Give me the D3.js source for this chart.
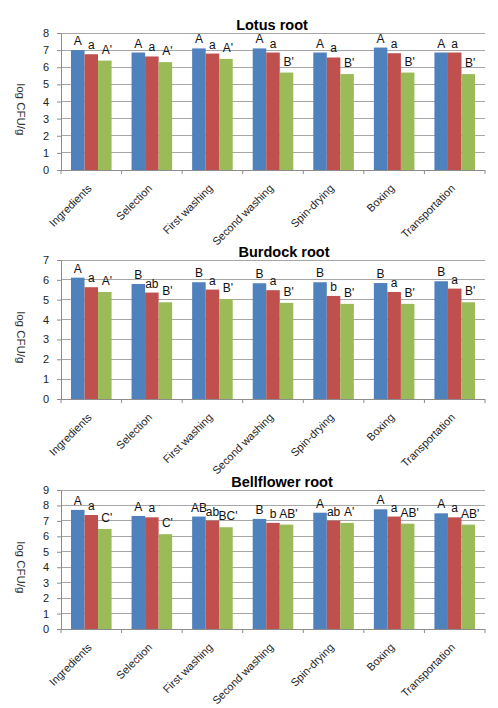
<!DOCTYPE html>
<html><head><meta charset="utf-8">
<script src="https://cdn.jsdelivr.net/npm/d3@7"></script>
<style>
body{margin:0;background:#fff;}
svg{display:block;}
text{font-family:"Liberation Sans",Arial,sans-serif;}
</style></head>
<body><svg id="c" width="498" height="708"></svg>
<script>
const categories = ["Ingredients","Selection","First washing","Second washing","Spin-drying","Boxing","Transportation"];
const seriesNames = ["s1","s2","s3"];
const colors = ["#4F81BD","#C0504D","#9BBB59"];

const lotusTitle = "Lotus root";
const lotusBlue  = [7.00,6.86,7.10,7.10,6.86,7.15,6.86];
const lotusRed   = [6.76,6.63,6.80,6.86,6.57,6.82,6.86];
const lotusGreen = [6.39,6.30,6.49,5.69,5.60,5.69,5.60];
const lotusBlueLetters  = ["A","A","A","A","A","A","A"];
const lotusRedLetters   = ["a","a","a","a","a","a","a"];
const lotusGreenLetters = ["A'","A'","A'","B'","B'","B'","B'"];
const lotusTicks = [0,1,2,3,4,5,6,7,8];

const burdockTitle = "Burdock root";
const burdockBlue  = [6.11,5.79,5.88,5.83,5.88,5.84,5.93];
const burdockRed   = [5.63,5.36,5.51,5.48,5.19,5.39,5.56];
const burdockGreen = [5.39,4.87,5.03,4.84,4.79,4.79,4.87];
const burdockBlueLetters  = ["A","B","B","B","B","B","B"];
const burdockRedLetters   = ["a","ab","a","a","b","a","a"];
const burdockGreenLetters = ["A'","B'","B'","B'","B'","B'","B'"];
const burdockTicks = [0,1,2,3,4,5,6,7];

const bellTitle = "Bellflower root";
const bellBlue  = [7.71,7.32,7.28,7.13,7.53,7.75,7.49];
const bellRed   = [7.38,7.23,7.02,6.87,7.02,7.28,7.23];
const bellGreen = [6.48,6.14,6.59,6.76,6.87,6.82,6.76];
const bellBlueLetters  = ["A","A","AB","B","A","A","A"];
const bellRedLetters   = ["a","a","ab","b","ab","a","a"];
const bellGreenLetters = ["C'","C'","BC'","AB'","A'","AB'","AB'"];
const bellTicks = [0,1,2,3,4,5,6,7,8,9];

const yLabel = "log CFU/g";

const panels = [
  {title:lotusTitle, vals:[lotusBlue,lotusRed,lotusGreen], letters:[lotusBlueLetters,lotusRedLetters,lotusGreenLetters], ticks:lotusTicks,
   top:33, bottom:170, titleX:272},
  {title:burdockTitle, vals:[burdockBlue,burdockRed,burdockGreen], letters:[burdockBlueLetters,burdockRedLetters,burdockGreenLetters], ticks:burdockTicks,
   top:260, bottom:399, titleX:284},
  {title:bellTitle, vals:[bellBlue,bellRed,bellGreen], letters:[bellBlueLetters,bellRedLetters,bellGreenLetters], ticks:bellTicks,
   top:490, bottom:629, titleX:282}
];

const svg = d3.select("#c");
const left = 61, right = 485;

panels.forEach(p => {
  const g = svg.append("g");
  const yMax = p.ticks[p.ticks.length-1];
  const y = d3.scaleLinear().domain([0,yMax]).range([p.bottom,p.top]);
  const x0 = d3.scaleBand().domain(categories).range([left,right]).paddingInner(0.33).paddingOuter(0.165);
  const x1 = d3.scaleBand().domain(seriesNames).range([0,x0.bandwidth()]);

  // gridlines
  g.selectAll(".grid").data(p.ticks.filter(t=>t>0)).enter().append("line")
    .attr("x1",left).attr("x2",right).attr("y1",d=>y(d)).attr("y2",d=>y(d))
    .attr("stroke","#a6a6a6").attr("stroke-width",1).attr("shape-rendering","crispEdges");

  // bars
  p.vals.forEach((arr,si) => {
    g.selectAll(".b"+si).data(arr).enter().append("rect")
      .attr("x",(d,i)=>x0(categories[i])+x1(seriesNames[si]))
      .attr("y",d=>y(d))
      .attr("width",x1.bandwidth())
      .attr("height",d=>p.bottom-y(d))
      .attr("fill",colors[si]);
  });

  // y axis
  const ya = d3.axisLeft(y).tickValues(p.ticks).tickSize(4).tickPadding(8).tickFormat(d3.format("d"));
  const yg = g.append("g").attr("transform",`translate(${left},0)`).call(ya);
  yg.select(".domain").attr("stroke","#8c8c8c");
  yg.selectAll(".tick line").attr("stroke","#8c8c8c");
  yg.selectAll("text").attr("font-size","11px").attr("fill","#222");

  // x axis
  const xg = g.append("g").attr("transform",`translate(0,${p.bottom})`);
  xg.append("line").attr("x1",left).attr("x2",right).attr("stroke","#8c8c8c").attr("shape-rendering","crispEdges");
  const step = (right-left)/categories.length;
  const bounds = d3.range(categories.length+1).map(i=>left+i*step);
  xg.selectAll(".xt").data(bounds).enter().append("line")
    .attr("x1",d=>d).attr("x2",d=>d).attr("y1",0).attr("y2",4).attr("stroke","#8c8c8c");
  xg.selectAll(".xl").data(categories).enter().append("text")
    .attr("transform",d=>`translate(${x0(d)+x0.bandwidth()/2+1},19) rotate(-45)`)
    .attr("text-anchor","end").attr("font-size","11px").attr("fill","#222").text(d=>d);

  // letters
  p.letters.forEach((arr,si) => {
    g.selectAll(".l"+si).data(arr).enter().append("text")
      .attr("x",(d,i)=>x0(categories[i])+x1(seriesNames[si])+x1.bandwidth()/2 + (si===2?2:0))
      .attr("y",(d,i)=>y(p.vals[si][i]) - (si===2?7:5))
      .attr("text-anchor","middle").attr("font-size","12px").attr("fill","#111").text(d=>d);
  });

  // title
  g.append("text").attr("x",p.titleX).attr("y",p.top-3).attr("text-anchor","middle")
    .attr("font-family","DejaVu Sans").attr("font-weight","bold").attr("font-size","14.5px").attr("fill","#000").text(p.title);

  // y label
  const cy = (p.top+p.bottom)/2 + 8;
  g.append("text").attr("transform",`translate(17,${cy}) rotate(90)`).attr("text-anchor","middle")
    .attr("font-size","11.5px").attr("fill","#333").text(yLabel);
});
</script></body></html>
